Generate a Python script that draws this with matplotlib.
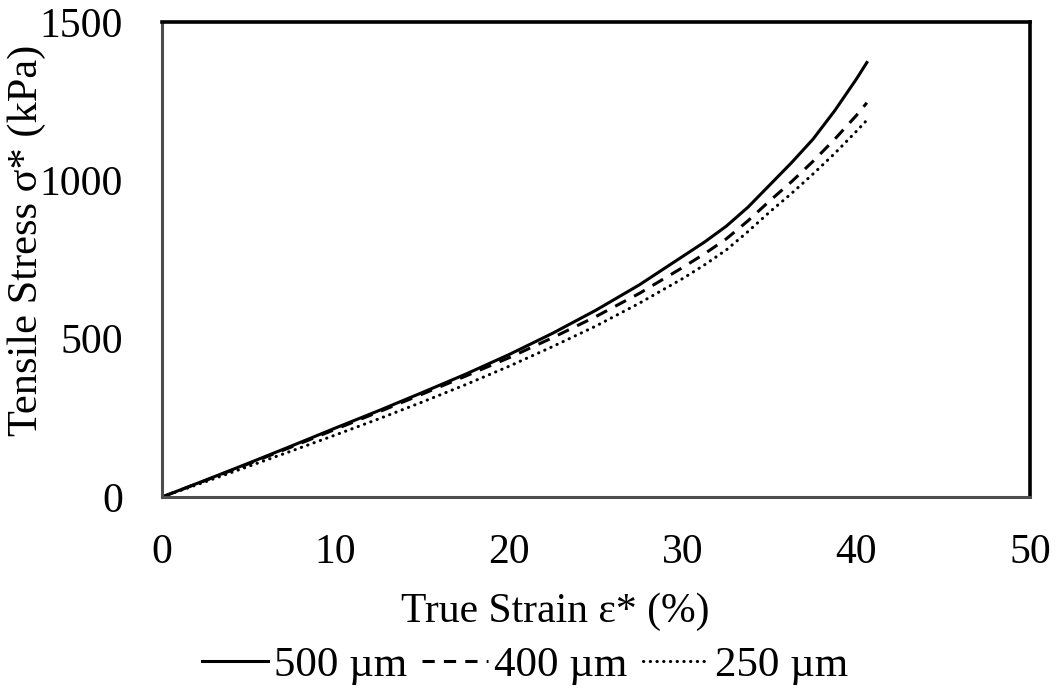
import matplotlib
matplotlib.use('Agg')
import matplotlib.pyplot as plt

plt.rcParams['font.family'] = ['Liberation Serif', 'DejaVu Serif']

strain = [0, 2.5, 5, 7.5, 10, 12.5, 15, 17.5, 20, 22.5, 25, 27.5, 30,
          31.25, 32.5, 33.75, 35, 36.25, 37.5, 38.75, 40, 40.6]
stress_500 = [0, 53, 107, 162, 218, 273, 330, 388, 450, 517, 590, 670, 760,
              805, 855, 915, 985, 1055, 1130, 1220, 1320, 1372]
stress_400 = [0, 52, 105, 159, 214, 269, 325, 382, 440, 503, 570, 643, 725,
              768, 815, 872, 935, 995, 1060, 1130, 1205, 1245]
stress_250 = [0, 48, 97, 146, 196, 247, 300, 355, 413, 475, 540, 612, 690,
              733, 780, 838, 900, 958, 1020, 1085, 1155, 1190]

x_ticks = [0, 10, 20, 30, 40, 50]
y_ticks = [0, 500, 1000, 1500]

fig = plt.figure(figsize=(10.63, 6.98), dpi=100)
ax = fig.add_axes([0.1524, 0.288, 0.8166, 0.6805])

ax.plot(strain, stress_500, color='black', lw=2.2, label='500 µm')
ax.plot(strain, stress_400, color='black', lw=2.2, linestyle=(0, (4, 3)),
        label='400 µm')
ax.plot(strain, stress_250, color='black', lw=2.2, linestyle=(0, (0.1, 2.1)),
        dash_capstyle='round', label='250 µm')

ax.set_xlim(0, 50)
ax.set_ylim(0, 1500)
ax.set_xticks(x_ticks)
ax.set_yticks(y_ticks)
ax.tick_params(axis='both', length=0, labelsize=30)
ax.tick_params(axis='x', pad=26)
ax.tick_params(axis='y', pad=28)

for side in ['top', 'right']:
    ax.spines[side].set_color('black')
    ax.spines[side].set_linewidth(2.6)
for side in ['left', 'bottom']:
    ax.spines[side].set_color('#4d4d4d')
    ax.spines[side].set_linewidth(2.2)

ax.set_ylabel('Tensile Stress σ* (kPa)', fontsize=30.5)
ax.yaxis.set_label_coords(-0.134, 0.54)
fig.text(555 / 1063, 1 - 612 / 698, 'True Strain ε* (%)', fontsize=30,
         ha='center', va='center')

fig.legend(loc='center', bbox_to_anchor=(525 / 1063, 1 - 665 / 698), ncol=3,
           frameon=False, fontsize=31, handlelength=1.53, handletextpad=0.14,
           columnspacing=0.35, borderaxespad=0)

fig.savefig('out.png', dpi=100)
